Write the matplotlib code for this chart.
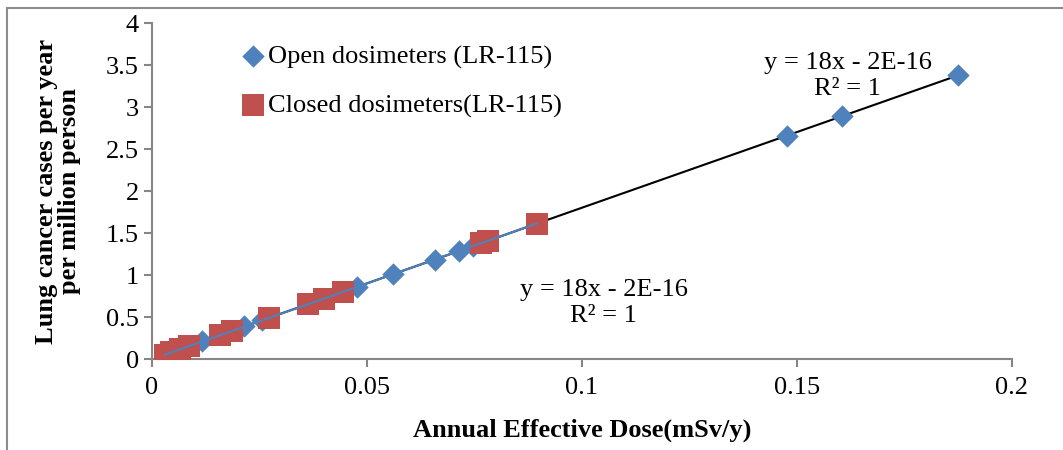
import matplotlib.pyplot as plt
from matplotlib.patches import Rectangle
import numpy as np

plt.rcParams["font.family"] = ["Liberation Serif", "DejaVu Serif"]

# Open dosimeters (LR-115)
open_x = np.array([0.004, 0.0116, 0.0214, 0.0256, 0.0476, 0.0561, 0.0658,
                   0.0715, 0.0746, 0.1477, 0.1605, 0.1875])
open_y = np.array([0.07, 0.21, 0.39, 0.46, 0.86, 1.01, 1.18,
                   1.29, 1.34, 2.66, 2.89, 3.38])

# Closed dosimeters (LR-115)
closed_x = np.array([0.003, 0.0045, 0.0065, 0.0085, 0.0158, 0.0185, 0.0272,
                     0.0362, 0.0400, 0.0445, 0.0765, 0.0782, 0.0895])
closed_y = np.array([0.05, 0.08, 0.12, 0.15, 0.28, 0.33, 0.49,
                     0.65, 0.72, 0.80, 1.38, 1.41, 1.61])

xticks = [0, 0.05, 0.1, 0.15, 0.2]
xtick_labels = ["0", "0.05", "0.1", "0.15", "0.2"]
yticks = [0, 0.5, 1, 1.5, 2, 2.5, 3, 3.5, 4]
ytick_labels = ["0", "0.5", "1", "1.5", "2", "2.5", "3", "3.5", "4"]

blue = "#4F81BD"
red = "#C0504D"
grey = "#868686"

fig = plt.figure(figsize=(10.63, 4.5), dpi=100)
ax = fig.add_axes([152 / 1063, 91 / 450, 860 / 1063, 336 / 450])

# trendlines
po = np.polyfit(open_x, open_y, 1)
xo = np.array([open_x.min(), open_x.max()])
ax.plot(xo, np.polyval(po, xo), color="black", lw=1.5, zorder=2)

ax.scatter(open_x, open_y, marker="D", s=130, color=blue, zorder=3,
           label="Open dosimeters (LR-115)", linewidths=0)
ax.scatter(closed_x, closed_y, marker="s", s=270, color=red, zorder=3,
           label="Closed dosimeters(LR-115)", linewidths=0)

pc = np.polyfit(closed_x, closed_y, 1)
xc = np.array([closed_x.min(), closed_x.max()])
ax.plot(xc, np.polyval(pc, xc), color=blue, lw=1.5, zorder=4)

ax.set_xlim(0, 0.2)
ax.set_ylim(0, 4)
ax.set_xticks(xticks)
ax.set_xticklabels(xtick_labels)
ax.set_yticks(yticks)
ax.set_yticklabels(ytick_labels)
ax.tick_params(labelsize=19, color=grey, length=6, width=1.5, direction="out")
ax.tick_params(axis="x", pad=7)
for side in ["top", "right"]:
    ax.spines[side].set_visible(False)
for side in ["left", "bottom"]:
    ax.spines[side].set_color(grey)
    ax.spines[side].set_linewidth(1.5)

ax.set_xlabel("Annual Effective Dose(mSv/y)", fontsize=19, fontweight="bold", labelpad=14)
ax.set_ylabel("Lung cancer cases per year\nper million person", fontsize=19,
              fontweight="bold", labelpad=18, linespacing=1.0)

ax.text(0.1618, 3.37, "y = 18x - 2E-16\nR² = 1", fontsize=19, ha="center",
        va="center", linespacing=1.25)
ax.text(0.105, 0.67, "y = 18x - 2E-16\nR² = 1", fontsize=19, ha="center",
        va="center", linespacing=1.25)

ax.legend(loc="upper left", bbox_to_anchor=(0.077, 0.99), frameon=False,
          fontsize=19, handletextpad=0.0, labelspacing=0.95, borderpad=0.2,
          scatterpoints=1, handlelength=1.2)

fig.add_artist(Rectangle((7 / 1063, -0.5), 2, 1.5 - 8 / 450, transform=fig.transFigure,
                         fill=False, edgecolor="#8c8c8c", lw=1.5))

fig.savefig("out.png", dpi=100)
